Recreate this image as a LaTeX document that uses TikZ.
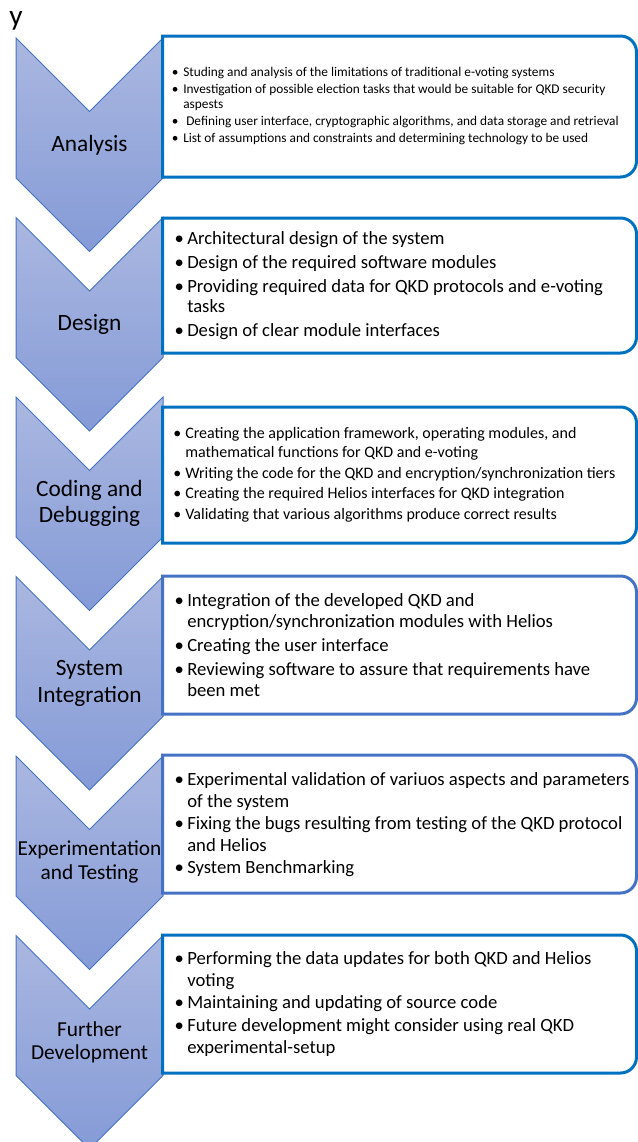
\documentclass[tikz,border=0pt]{standalone}
\usepackage{fontspec}
\setmainfont{Carlito}
\usepackage{xcolor}
\usepackage{tikz}
\usetikzlibrary{positioning}
\definecolor{boxblue}{RGB}{0,112,192}
\definecolor{accentblue}{RGB}{68,114,196}
\definecolor{chevtop}{RGB}{170,183,224}
\definecolor{chevbot}{RGB}{133,155,215}
\newcommand{\bul}{\makebox[6pt][l]{\makebox[0pt][c]{\textbullet}}}
\newcommand{\cnt}{\hspace*{6pt}}
\tikzset{
    stage/.style = {draw=accentblue, line width=0.75pt, top color=chevtop, bottom color=chevbot},
    stage_label/.style = {align=center, inner sep=0pt, font=\fontsize{17.5}{19}\selectfont},
    task_box/.style = {draw=#1, line width=2.25pt, fill=white},
    task_text/.style = {anchor=west, align=left, inner sep=0pt}
}

\begin{document}
\begin{tikzpicture}[x=0.75pt, y=-0.75pt]
    \useasboundingbox (0,0) rectangle (638,1142);
    \node [anchor=base west, inner sep=0pt, font=\fontsize{22}{24}\selectfont] (ylabel) at (9,26) {y};
    % chevrons
    \path [stage] (16,38) -- ++(73.5,73.5) -- ++(73.5,-73.5) -- ++(0,140) -- ++(-73.5,73.5) -- ++(-73.5,-73.5) -- cycle;
    \path [stage] (16,217.5) -- ++(73.5,73.5) -- ++(73.5,-73.5) -- ++(0,140) -- ++(-73.5,73.5) -- ++(-73.5,-73.5) -- cycle;
    \path [stage] (16,397) -- ++(73.5,73.5) -- ++(73.5,-73.5) -- ++(0,140) -- ++(-73.5,73.5) -- ++(-73.5,-73.5) -- cycle;
    \path [stage] (16,576.5) -- ++(73.5,73.5) -- ++(73.5,-73.5) -- ++(0,140) -- ++(-73.5,73.5) -- ++(-73.5,-73.5) -- cycle;
    \path [stage] (16,756) -- ++(73.5,73.5) -- ++(73.5,-73.5) -- ++(0,140) -- ++(-73.5,73.5) -- ++(-73.5,-73.5) -- cycle;
    \path [stage] (16,935.5) -- ++(73.5,73.5) -- ++(73.5,-73.5) -- ++(0,140) -- ++(-73.5,73.5) -- ++(-73.5,-73.5) -- cycle;
    \node [stage_label] (analysis) at (89.5,145.5) {Analysis};
    \node [stage_label] (design) at (89.5,324.5) {Design};
    \node [stage_label] (coding) at (89.5,503.5) {Coding and\\Debugging};
    \node [stage_label, font=\fontsize{17.5}{20}\selectfont] (integration) at (89.5,683.5) {System\\Integration};
    \node [stage_label, font=\fontsize{16}{18}\selectfont] (testing) at (89.5,862) {Experimentation\\and Testing};
    \node [stage_label, font=\fontsize{16}{17.5}\selectfont] (further) at (89.5,1042.5) {Further\\Development};
    % task boxes
    \draw [task_box=boxblue] (162.5,36) -- (620.5,36) arc[start angle=90, end angle=0, radius=12pt] -- (636.5,161) arc[start angle=0, end angle=-90, radius=12pt] -- (162.5,177) -- cycle;
    \draw [task_box=boxblue] (162.5,218) -- (620.5,218) arc[start angle=90, end angle=0, radius=12pt] -- (636.5,337) arc[start angle=0, end angle=-90, radius=12pt] -- (162.5,353) -- cycle;
    \draw [task_box=boxblue] (162.5,407) -- (620.5,407) arc[start angle=90, end angle=0, radius=12pt] -- (636.5,527) arc[start angle=0, end angle=-90, radius=12pt] -- (162.5,543) -- cycle;
    \draw [task_box=accentblue] (162.5,576) -- (620.5,576) arc[start angle=90, end angle=0, radius=12pt] -- (636.5,698) arc[start angle=0, end angle=-90, radius=12pt] -- (162.5,714) -- cycle;
    \draw [task_box=accentblue] (162.5,755) -- (620.5,755) arc[start angle=90, end angle=0, radius=12pt] -- (636.5,877) arc[start angle=0, end angle=-90, radius=12pt] -- (162.5,893) -- cycle;
    \draw [task_box=boxblue] (162.5,935) -- (620.5,935) arc[start angle=90, end angle=0, radius=12pt] -- (636.5,1057) arc[start angle=0, end angle=-90, radius=12pt] -- (162.5,1073) -- cycle;
    % task texts
    \node [task_text, font=\fontsize{10}{11.25}\selectfont] (analysis_tasks) at (175,106.5) {%
        \bul Studing and analysis of the limitations of traditional e-voting systems\\[1.5pt]
        \bul Investigation of possible election tasks that would be suitable for QKD security\\
        \cnt aspests\\[1.5pt]
        \bul\ Defining user interface, cryptographic algorithms, and data storage and retrieval\\[1.5pt]
        \bul List of assumptions and constraints and determining technology to be used};
    \node [task_text, font=\fontsize{14}{15}\selectfont] (design_tasks) at (179,286) {%
        \bul Architectural design of the system\\[3pt]
        \bul Design of the required software modules\\[3pt]
        \bul Providing required data for QKD protocols and e-voting\\
        \cnt tasks\\[3pt]
        \bul Design of clear module interfaces};
    \node [task_text, font=\fontsize{12}{14}\selectfont] (coding_tasks) at (177,475) {%
        \bul Creating the application framework, operating modules, and\\
        \cnt mathematical functions for QKD and e-voting\\[1.5pt]
        \bul Writing the code for the QKD and encryption/synchronization tiers\\[1.5pt]
        \bul Creating the required Helios interfaces for QKD integration\\[1.5pt]
        \bul Validating that various algorithms produce correct results};
    \node [task_text, font=\fontsize{14}{15.75}\selectfont] (integration_tasks) at (179,645) {%
        \bul Integration of the developed QKD and\\
        \cnt encryption/synchronization modules with Helios\\[2pt]
        \bul Creating the user interface\\[2pt]
        \bul Reviewing software to assure that requirements have\\
        \cnt been met};
    \node [task_text, font=\fontsize{14}{16}\selectfont] (testing_tasks) at (179,825) {%
        \bul Experimental validation of variuos aspects and parameters\\
        \cnt of the system\\[1pt]
        \bul Fixing the bugs resulting from testing of the QKD protocol\\
        \cnt and Helios\\[1pt]
        \bul System Benchmarking};
    \node [task_text, font=\fontsize{14}{16.5}\selectfont] (further_tasks) at (179,1004) {%
        \bul Performing the data updates for both QKD and Helios\\
        \cnt voting\\[0.5pt]
        \bul Maintaining and updating of source code\\[0.5pt]
        \bul Future development might consider using real QKD\\
        \cnt experimental-setup};
\end{tikzpicture}
\end{document}
